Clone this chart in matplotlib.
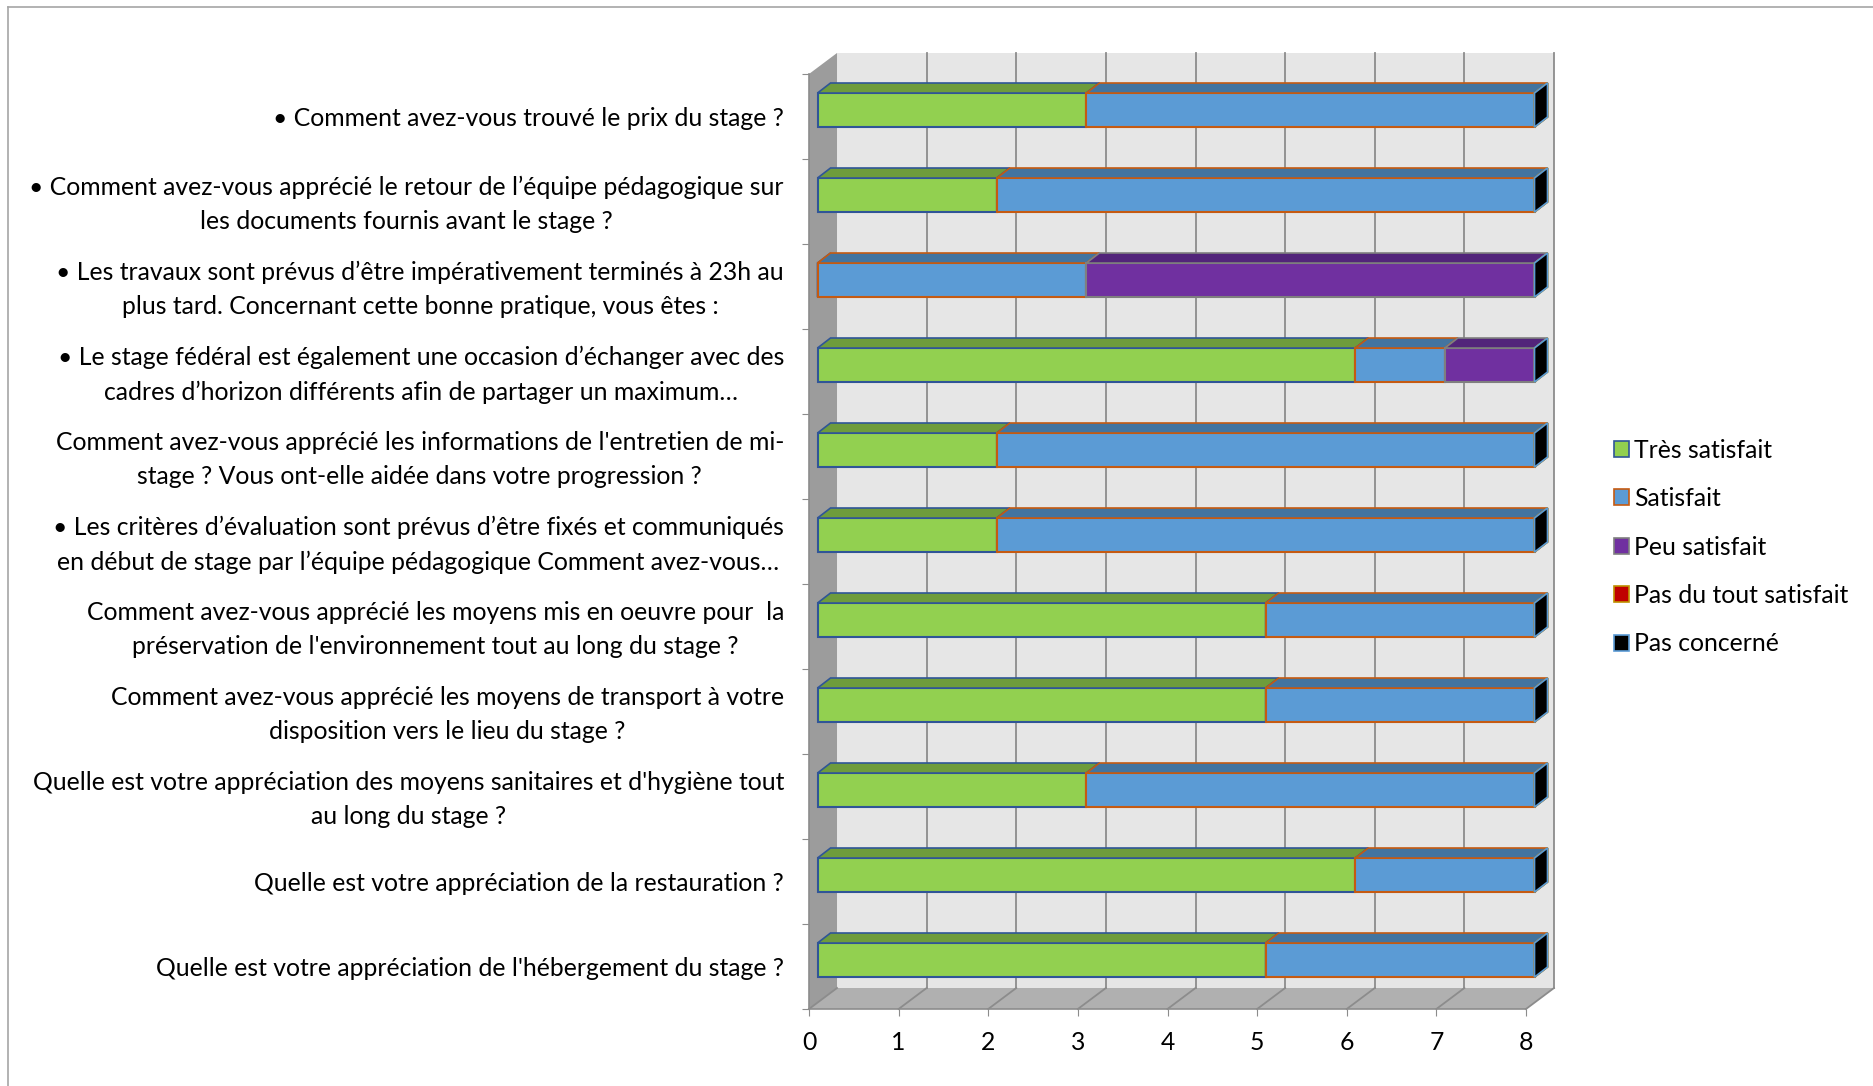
import numpy as np
import matplotlib.pyplot as plt
from matplotlib.patches import Polygon, Patch
from matplotlib.lines import Line2D

plt.rcParams['font.family'] = ['Lato', 'DejaVu Sans']

questions = [
    "• Comment avez-vous trouvé le prix du stage ?",
    "• Comment avez-vous apprécié le retour de l’équipe pédagogique sur\nles documents fournis avant le stage ?",
    "• Les travaux sont prévus d’être impérativement terminés à 23h au\nplus tard. Concernant cette bonne pratique, vous êtes :",
    "• Le stage fédéral est également une occasion d’échanger avec des\ncadres d’horizon différents afin de partager un maximum…",
    "Comment avez-vous apprécié les informations de l'entretien de mi-\nstage ? Vous ont-elle aidée dans votre progression ?",
    "• Les critères d’évaluation sont prévus d’être fixés et communiqués\nen début de stage par l’équipe pédagogique Comment avez-vous…",
    "Comment avez-vous apprécié les moyens mis en oeuvre pour  la\npréservation de l'environnement tout au long du stage ?",
    "Comment avez-vous apprécié les moyens de transport à votre\ndisposition vers le lieu du stage ?",
    "Quelle est votre appréciation des moyens sanitaires et d'hygiène tout\nau long du stage ?",
    "Quelle est votre appréciation de la restauration ?",
    "Quelle est votre appréciation de l'hébergement du stage ?",
]
series_names = ["Très satisfait", "Satisfait", "Peu satisfait",
                "Pas du tout satisfait", "Pas concerné"]
tres_satisfait = [3, 2, 0, 6, 2, 2, 5, 5, 3, 6, 5]
satisfait = [5, 6, 3, 1, 6, 6, 3, 3, 5, 2, 3]
peu_satisfait = [0, 0, 5, 1, 0, 0, 0, 0, 0, 0, 0]
pas_du_tout = [0, 0, 0, 0, 0, 0, 0, 0, 0, 0, 0]
pas_concerne = [0, 0, 0, 0, 0, 0, 0, 0, 0, 0, 0]
x_ticks = [0, 1, 2, 3, 4, 5, 6, 7, 8]

# styling per series: front, top, side, edge
front_colors = ['#92D050', '#5B9BD5', '#7030A0', '#C00000', '#000000']
top_colors = ['#6E9C3C', '#43749F', '#52247A', '#900000', '#000000']
side_colors = ['#5E8A2E', '#3A6690', '#4A1F6E', '#800000', '#000000']
edge_colors = ['#2F5597', '#C55A11', '#7F7F7F', '#BF9000', '#5B9BD5']

W, H = 1874, 1086
WALL_DX, WALL_DY = 0.3125, 0.247
BAR_OFF_X, BAR_OFF_Y = 0.095, 0.076
BAR_DX, BAR_DY = 0.145, 0.118
BAR_H = 0.40
FS = 17.8

fig = plt.figure(figsize=(W / 100, H / 100), dpi=100)
fig.patch.set_facecolor('white')
ax = fig.add_axes([809 / W, 1 - 1009 / H, 717 / W, 935 / H])

n = len(questions)
ypos = np.arange(n)[::-1].astype(float)
xmax = x_ticks[-1]
ax.set_xlim(0, xmax)
ax.set_ylim(-0.5, n - 0.5)
ax.set_facecolor('none')

# 3D box: back wall, left wall, floor
lo, hi = -0.5, n - 0.5
ax.add_patch(Polygon([(WALL_DX, lo + WALL_DY), (xmax + WALL_DX, lo + WALL_DY),
                      (xmax + WALL_DX, hi + WALL_DY), (WALL_DX, hi + WALL_DY)],
                     closed=True, fc='#E6E6E6', ec='none', clip_on=False, zorder=0))
ax.add_patch(Polygon([(0, lo), (WALL_DX, lo + WALL_DY), (WALL_DX, hi + WALL_DY), (0, hi)],
                     closed=True, fc='#9C9C9C', ec='none', clip_on=False, zorder=0.5))
ax.add_patch(Polygon([(0, lo), (xmax, lo), (xmax + WALL_DX, lo + WALL_DY), (WALL_DX, lo + WALL_DY)],
                     closed=True, fc='#B0B0B0', ec='none', clip_on=False, zorder=0.5))
for x in x_ticks:
    if x > 0:
        ax.plot([x + WALL_DX, x + WALL_DX], [lo + WALL_DY, hi + WALL_DY],
                color='#8C8C8C', lw=1.3, clip_on=False, zorder=1)
    ax.plot([x, x + WALL_DX], [lo, lo + WALL_DY], color='#8C8C8C', lw=1.3,
            clip_on=False, zorder=1)

# stacked 3D bars
series = [tres_satisfait, satisfait, peu_satisfait, pas_du_tout, pas_concerne]
left = np.zeros(n)
for vals, fc, tc, sc, ec in zip(series, front_colors, top_colors, side_colors, edge_colors):
    vals = np.array(vals, dtype=float)
    yc = ypos + BAR_OFF_Y
    yb = yc - BAR_H / 2
    yt = yc + BAR_H / 2
    x0 = left + BAR_OFF_X
    x1 = x0 + vals
    nz = vals > 0
    ax.barh(yc[nz], vals[nz], left=x0[nz], height=BAR_H, color=fc,
            edgecolor=ec, linewidth=1.5, zorder=3, clip_on=False)
    for i in range(n):
        if nz[i]:
            ax.add_patch(Polygon([(x0[i], yt[i]), (x1[i], yt[i]),
                                  (x1[i] + BAR_DX, yt[i] + BAR_DY),
                                  (x0[i] + BAR_DX, yt[i] + BAR_DY)],
                                 closed=True, fc=tc, ec=ec, lw=1.2,
                                 clip_on=False, zorder=3))
        ax.add_patch(Polygon([(x1[i], yb[i]), (x1[i], yt[i]),
                              (x1[i] + BAR_DX, yt[i] + BAR_DY),
                              (x1[i] + BAR_DX, yb[i] + BAR_DY)],
                             closed=True, fc=sc, ec=ec, lw=1.2,
                             clip_on=False, zorder=3))
    left += vals

# axes / ticks
for s in ['top', 'right']:
    ax.spines[s].set_visible(False)
for s in ['left', 'bottom']:
    ax.spines[s].set_color('#8C8C8C')
    ax.spines[s].set_linewidth(1.2)

ax.set_xticks(x_ticks)
ax.set_xticklabels([str(v) for v in x_ticks], fontsize=FS)
ax.tick_params(axis='x', length=5, color='#8C8C8C', pad=11)

# category ticks sit between categories; labels on hidden minor ticks
multi = np.array(['\n' in q for q in questions])
label_pos = ypos - np.where(multi, 0.035, 0.0)
ax.set_yticks(np.arange(n + 1) - 0.5)
ax.set_yticklabels([])
ax.set_yticks(label_pos, minor=True)
ax.set_yticklabels(questions, minor=True, fontsize=FS, multialignment='center',
                   linespacing=1.6)
for lbl in ax.get_yticklabels(minor=True):
    if '\n' in lbl.get_text():
        lbl.set_verticalalignment('center')
ax.tick_params(axis='y', which='major', length=5, color='#8C8C8C')
ax.tick_params(axis='y', which='minor', length=0, pad=18)

# legend
handles = [Patch(facecolor=fc, edgecolor=ec, linewidth=1.2, label=name)
           for fc, ec, name in zip(front_colors, edge_colors, series_names)]
fig.legend(handles=handles, loc='center left', bbox_to_anchor=(1602 / W, 1 - 547 / H),
           frameon=False, fontsize=FS, handlelength=0.6, handleheight=0.6,
           handletextpad=0.2, labelspacing=1.03, borderpad=0)

# outer frame (cropped)
fig.add_artist(Line2D([8 / W, 8 / W], [0, 1 - 7 / H], transform=fig.transFigure,
                      color='#A6A6A6', lw=1.2))
fig.add_artist(Line2D([8 / W, 1], [1 - 7 / H, 1 - 7 / H], transform=fig.transFigure,
                      color='#A6A6A6', lw=1.2))

fig.savefig('out.png', dpi=100)
